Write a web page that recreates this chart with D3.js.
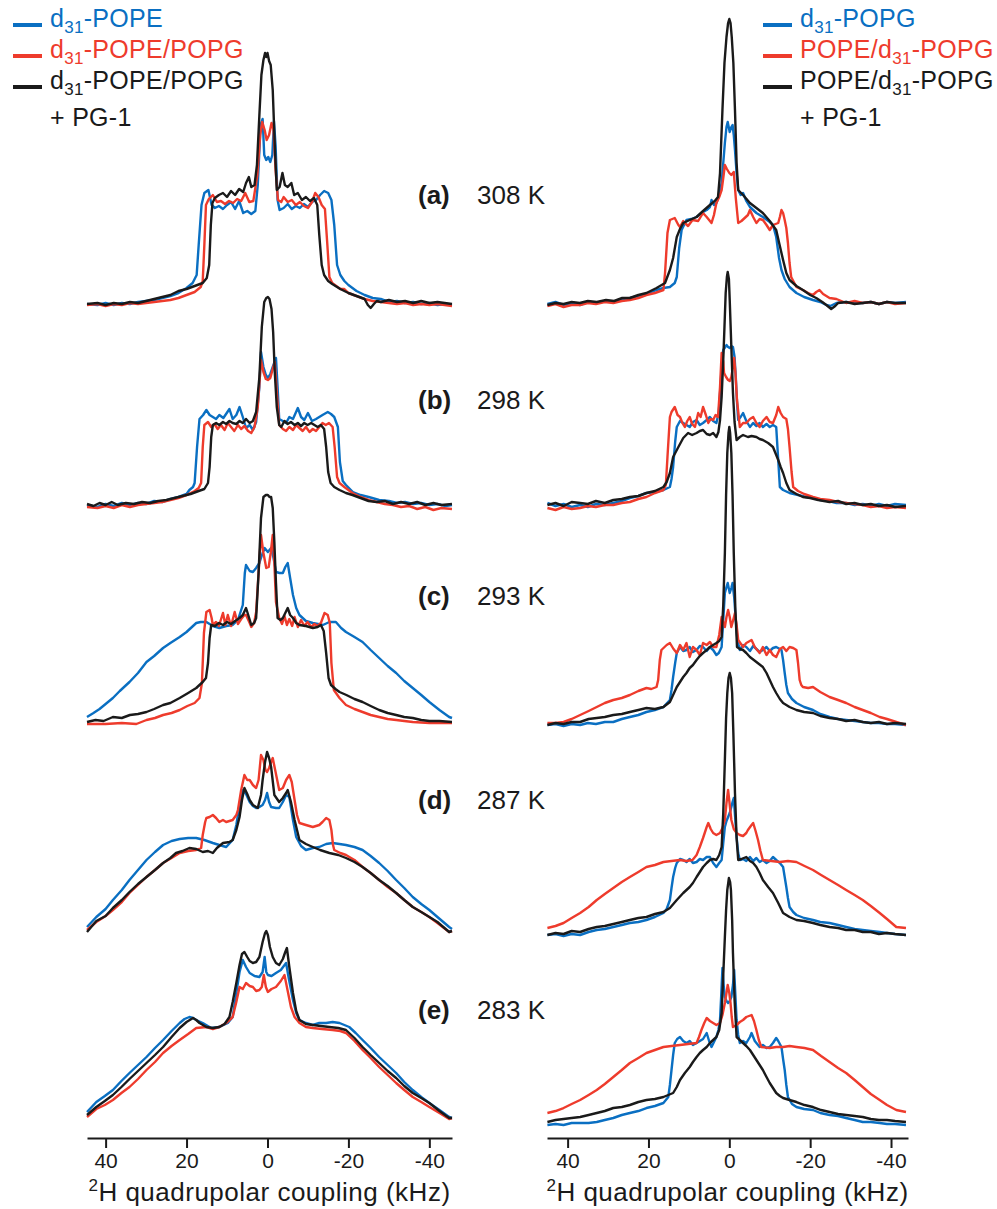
<!DOCTYPE html>
<html>
<head>
<meta charset="utf-8">
<script src="https://cdn.jsdelivr.net/npm/d3@7"></script>
<style>
  body { margin: 0; background: #fff; }
  svg { display: block; font-family: "Liberation Sans", Arial, sans-serif; }
</style>
</head>
<body>
<div id="vis"></div>
<script>
const FRAME_WIDTH = 997;
const FRAME_HEIGHT = 1209;

const TAGS = ["(a)", "(b)", "(c)", "(d)", "(e)"];
const TEMPS = ["308 K", "298 K", "293 K", "287 K", "283 K"];
const X_TICKS = [40, 20, 0, -20, -40];
const X_MINOR = [30, 10, -10, -30];

const COLORS = ["#0a6fc2", "#ee3b2c", "#1a1a1a"];

// legend labels, parts with a subscript marked
const LEFT_NAMES = [
  [["d"], ["31", "sub"], ["-POPE"]],
  [["d"], ["31", "sub"], ["-POPE/POPG"]],
  [["d"], ["31", "sub"], ["-POPE/POPG"]]
];
const RIGHT_NAMES = [
  [["d"], ["31", "sub"], ["-POPG"]],
  [["POPE/d"], ["31", "sub"], ["-POPG"]],
  [["POPE/d"], ["31", "sub"], ["-POPG"]]
];

// ---- left column spectra: [kHz, intensity] ----
// d31-POPE
const POPE_308 = [[44.6,1],[42,0],[40,2],[38,0],[36,2],[34,1],[32,3],[30,4],[28,5],[26,7],[24,9],[22,12],[20,17],[18.5,22],[17.5,30],[17,60],[16.3,100],[15.6,112],[14.6,115],[13.8,100],[13,97],[12,99],[11,96],[10,100],[9,103],[8,96],[7,104],[6,92],[5,94],[4,91],[3,94],[2.4,120],[1.7,180],[1.2,186],[0.8,150],[0.3,145],[-0.2,148],[-0.7,143],[-1.2,150],[-1.6,184],[-2.0,160],[-2.5,105],[-3,95],[-4,97],[-5,101],[-6,96],[-7,99],[-8,97],[-9,101],[-10,98],[-11,103],[-12,105],[-13,110],[-14,114],[-15,112],[-15.8,105],[-16.5,80],[-17.2,40],[-18,30],[-19,24],[-20,20],[-22,14],[-24,10],[-26,7],[-28,6],[-30,3],[-32,4],[-34,2],[-36,3],[-38,1],[-40,2],[-42,0],[-44,1],[-45.6,0]];
const POPE_298 = [[44.6,2],[42,0],[40,3],[38,1],[36,4],[34,2],[32,4],[30,3],[28,6],[26,5],[24,8],[22,10],[20,13],[19.3,17],[18.4,20],[18.0,24],[17.4,60],[16.8,88],[15.9,92],[15.1,97],[14.3,92],[12.7,88],[11.9,92],[10.9,89],[9.4,98],[8.6,88],[7.7,92],[6.9,100],[6.1,90],[5.3,79],[4.4,82],[3.6,77],[2.8,85],[2.0,120],[1.6,155],[1.0,140],[0.4,132],[-0.1,129],[-0.7,133],[-1.3,140],[-2.1,149],[-2.5,120],[-2.9,88],[-3.8,86],[-4.6,84],[-5.4,90],[-6.3,88],[-7.5,99],[-8.3,90],[-9.1,87],[-10.0,94],[-11.0,86],[-12.0,88],[-12.8,90],[-13.6,92],[-14.9,95],[-15.7,93],[-16.5,90],[-17.4,80],[-17.9,45],[-18.6,26],[-19.4,22],[-21.1,15],[-23,12],[-25,10],[-27.6,7],[-30,6],[-32,4],[-34,5],[-36,3],[-38,4],[-40,2],[-42,3],[-44,1],[-45.6,2]];
const POPE_293 = [[44.6,6],[43,10],[41.5,14],[40,19],[38.2,25],[36.5,32],[34.1,41],[32,50],[29.9,61],[28,67],[25.8,75],[24,80],[21.7,86],[20,91],[17.6,100],[16.5,101],[15.1,101],[13.5,97],[11.9,95],[10.2,97],[8.6,98],[7.3,103],[6.1,118],[5.6,150],[5.3,158],[4.4,152],[3.6,151],[2.8,155],[2.0,160],[1.2,170],[0.7,175],[-0.1,171],[-0.9,175],[-1.5,165],[-2.1,151],[-3.0,150],[-3.8,150],[-4.4,156],[-5.0,160],[-5.6,145],[-6.3,128],[-7.1,115],[-7.9,108],[-9.5,102],[-11.2,100],[-13.7,98],[-15.3,101],[-16.9,101],[-18.2,95],[-19.4,91],[-21.5,86],[-23.5,81],[-25.5,73],[-27.6,65],[-29.7,57],[-31.8,50],[-33.8,42],[-35.9,35],[-38,28],[-40.0,21],[-42.5,13],[-44.9,6],[-45.6,5]];
const POPE_287 = [[44.6,3],[42.3,13],[40,21],[38.2,30],[36,40],[34.1,50],[32,60],[29.9,70],[27.8,78],[25.8,85],[23.7,89],[21.7,91],[19.6,92],[17.6,92],[15.6,90],[13.5,87],[11.9,85],[10.2,83],[8.6,90],[7.7,105],[6.9,125],[6.1,140],[5.3,136],[4.4,128],[3.6,124],[2.8,122],[2.0,123],[1.2,125],[0.6,130],[0.1,137],[-0.4,128],[-0.9,123],[-2.1,122],[-2.9,122],[-3.8,128],[-4.6,135],[-5.4,133],[-6.3,110],[-7.1,93],[-8.3,84],[-9.5,80],[-11.2,82],[-12.8,83],[-14.5,86],[-16.1,87],[-17.8,86],[-19.4,85],[-21.5,83],[-23.5,80],[-25.5,74],[-27.6,67],[-29.7,59],[-31.8,50],[-33.8,42],[-35.9,33],[-38,26],[-40,20],[-42,13],[-44.9,3],[-45.6,1]];
const POPE_283 = [[44.6,5],[42.3,15],[40.2,21],[38.2,27],[36.1,36],[34.1,44],[32,52],[29.9,60],[27.8,69],[25.8,77],[23.7,86],[21.7,94],[20.5,98],[19.3,100],[18.4,99],[17.6,97],[16.0,94],[13.9,89],[11.9,90],[9.8,94],[8.6,100],[7.7,124],[6.9,145],[6.1,157],[5.3,150],[4.4,144],[3.2,141],[2.0,140],[1.2,145],[0.7,160],[0.3,145],[-0.1,142],[-1.0,141],[-2.1,144],[-3.3,147],[-4.6,154],[-5.2,140],[-6.3,117],[-7.1,104],[-7.9,97],[-9.5,94],[-11.2,92],[-12.8,94],[-14.5,94],[-16.1,95],[-17.8,94],[-20.2,90],[-21.8,84],[-23.5,77],[-25.5,69],[-27.6,60],[-29.7,52],[-31.8,44],[-33.8,35],[-35.9,27],[-38,20],[-40.0,14],[-42.5,7],[-44.9,0],[-45.6,-1]];

// d31-POPE/POPG
const POPE_POPG_308 = [[44.6,0],[42,1],[40,-1],[38,1],[36,0],[34,2],[32,1],[30,2],[28,3],[26,4],[24,5],[22,7],[20,10],[18,13],[16.5,18],[16,24],[15.6,60],[15.2,100],[14.5,106],[13.5,110],[12.5,103],[11.5,104],[10.5,101],[9.5,104],[8.5,102],[7.5,106],[6.5,104],[5.5,112],[4.5,103],[3.5,104],[2.5,130],[1.8,170],[1.3,183],[0.7,175],[0.2,165],[-0.4,170],[-1.0,182],[-1.5,175],[-2.0,135],[-2.6,105],[-3.4,103],[-4,108],[-5,103],[-6,105],[-7,100],[-8,103],[-9,99],[-10,97],[-11,103],[-11.8,112],[-12.6,108],[-13.4,100],[-14.2,96],[-14.8,60],[-15.3,28],[-16,22],[-17,19],[-18,16],[-19,16],[-20,12],[-22,9],[-24,6],[-26,4],[-28,3],[-30,2],[-32,1],[-34,2],[-36,0],[-38,1],[-40,0],[-42,1],[-45.6,-1]];
const POPE_POPG_298 = [[44.6,0],[42,-1],[40,1],[38,-1],[36,2],[34,0],[32,2],[30,3],[28,4],[26,5],[24,7],[22,9],[20,12],[18,16],[17,19],[16.4,24],[16.0,60],[15.6,82],[14.7,85],[13.9,80],[13.1,83],[12.3,78],[11.5,82],[10.6,77],[9.8,84],[9.0,80],[8.2,76],[7.3,82],[6.5,78],[5.7,81],[4.8,76],[4.0,74],[3.2,80],[2.4,100],[1.6,147],[1.0,135],[0.4,128],[-0.1,127],[-0.7,129],[-1.3,138],[-1.8,145],[-2.3,115],[-2.9,82],[-3.8,78],[-4.6,76],[-5.4,80],[-6.3,77],[-7.1,82],[-7.9,79],[-8.7,76],[-9.5,80],[-10.4,75],[-11.2,78],[-12.0,76],[-12.8,80],[-13.6,84],[-14.4,82],[-15.2,84],[-16.1,80],[-16.6,60],[-17.2,30],[-17.8,24],[-19,20],[-21,14],[-23,10],[-25,7],[-27,5],[-29,3],[-31,2],[-33,0],[-35,1],[-37,-2],[-39,0],[-41,-3],[-43,-1],[-45.6,-2]];
const POPE_POPG_293 = [[44.6,-1],[40,-1],[36,0],[32.4,-1],[29.9,3],[27.8,5],[25.8,8],[23.7,10],[21.7,13],[19.8,17],[18.0,20],[16.8,25],[16.2,40],[15.7,90],[15.1,111],[14.3,113],[13.8,105],[13.5,98],[12.7,101],[12.0,97],[11.0,110],[10.4,98],[9.8,108],[9.0,97],[8.1,111],[7.3,99],[6.5,104],[5.7,108],[5.3,108],[4.4,100],[4.0,96],[3.3,100],[2.8,111],[2.2,150],[1.6,188],[1.0,170],[0.3,155],[-0.3,156],[-0.8,170],[-1.3,188],[-1.7,160],[-2.1,121],[-2.9,105],[-3.6,99],[-4.2,107],[-4.8,98],[-5.4,104],[-6.1,97],[-6.7,106],[-7.5,96],[-8.3,103],[-9.1,97],[-9.9,101],[-10.8,96],[-11.6,99],[-12.4,97],[-13.2,100],[-14.1,110],[-14.9,108],[-15.4,100],[-15.8,60],[-16.4,33],[-17.8,25],[-19.4,18],[-21.5,14],[-23.5,11],[-25.5,8],[-27.6,6],[-29.7,4],[-31.8,3],[-33.8,2],[-35.9,1],[-40,0],[-45.6,0]];
const POPE_POPG_287 = [[44.6,0],[42.3,8],[40,14],[38.2,20],[36,28],[34.1,37],[32,45],[29.9,53],[27.8,60],[25.8,67],[23.7,72],[21.7,77],[19.6,79],[17.6,80],[16.4,82],[16.0,95],[15.4,108],[15.1,112],[14.3,113],[13.5,115],[12.7,112],[11.9,108],[11.0,110],[10.2,108],[9.4,109],[8.6,110],[7.7,115],[7.3,120],[6.5,140],[5.7,155],[5.0,150],[4.4,150],[3.6,145],[2.8,142],[2.2,150],[1.6,175],[1.0,170],[0.5,160],[0.1,158],[-0.4,162],[-0.9,168],[-1.3,172],[-1.9,160],[-2.9,140],[-3.8,142],[-4.6,150],[-5.4,155],[-6.0,148],[-6.7,130],[-7.3,115],[-7.9,107],[-9.5,105],[-11.2,103],[-12.8,105],[-13.6,108],[-14.5,112],[-15.3,110],[-15.8,100],[-16.2,85],[-16.5,80],[-18,77],[-19.4,75],[-21.5,70],[-23.5,63],[-25.5,57],[-27.6,50],[-29.7,43],[-31.8,37],[-33.8,30],[-35.9,23],[-38,18],[-40,13],[-42,7],[-44.9,-2],[-45.6,-1]];
const POPE_POPG_283 = [[44.6,0],[42.3,8],[40.2,12],[38.2,17],[36.1,24],[34.1,30],[32,38],[29.9,47],[27.8,55],[25.8,64],[23.7,71],[21.7,77],[19.6,83],[17.6,89],[15.1,90],[13.5,88],[11.9,90],[10.2,94],[8.6,100],[7.7,115],[6.9,130],[6.1,128],[5.3,134],[4.4,131],[3.6,130],[2.8,126],[2.0,127],[1.4,130],[0.9,142],[0.4,130],[-0.1,125],[-1.0,128],[-2.1,130],[-3.3,136],[-4.2,142],[-5.0,126],[-5.8,110],[-6.7,100],[-7.9,94],[-9.5,90],[-11.2,89],[-13.5,88],[-16.1,87],[-18,86],[-19.4,84],[-21.5,76],[-23.5,67],[-25.5,59],[-27.6,50],[-29.7,42],[-31.8,34],[-33.8,27],[-35.9,20],[-38,15],[-40,10],[-42.5,4],[-44.9,-2],[-45.6,-1]];

// d31-POPE/POPG + PG-1
const POPE_POPG_PG1_308 = [[44.6,1],[42,2],[40,0],[38,2],[36,1],[34,3],[32,2],[30,4],[28,6],[26,8],[24,10],[22,14],[20,16],[18,19],[16,22],[15,27],[14.4,40],[14,80],[13.6,102],[13,107],[12,110],[11,112],[10,108],[9,114],[8,110],[7,116],[6,113],[5.3,122],[4.6,128],[4,118],[3.2,120],[2.6,140],[2.0,190],[1.5,230],[1.0,245],[0.6,252],[0.3,248],[0,252],[-0.4,244],[-0.8,240],[-1.3,215],[-1.8,160],[-2.3,115],[-3,118],[-3.7,132],[-4.3,120],[-5,118],[-5.9,122],[-6.6,110],[-7.5,112],[-8.5,105],[-9.5,108],[-10.5,104],[-11.5,107],[-12.3,100],[-12.8,70],[-13.4,40],[-14,30],[-15,24],[-16,21],[-18,16],[-20,12],[-22,9],[-24,6],[-24.8,0],[-25.5,-3],[-26.3,1],[-27,4],[-28,3],[-30,5],[-32,3],[-34,4],[-36,2],[-38,4],[-40,2],[-42,3],[-45.6,1]];
const POPE_POPG_PG1_298 = [[44.6,3],[43,1],[41.5,4],[40,2],[38.5,5],[37,2],[35,4],[33,3],[31,5],[29,4],[27,6],[25,7],[23,9],[21,11],[19,13],[17,16],[15.6,18],[14.7,24],[14.3,40],[13.9,70],[13.5,82],[12.7,84],[11.9,82],[11.0,85],[10.2,83],[9.4,86],[8.6,84],[7.7,83],[6.9,86],[6.1,84],[5.3,88],[4.4,84],[3.6,86],[2.8,95],[2.0,130],[1.4,180],[0.8,205],[0.3,209],[-0.1,210],[-0.5,208],[-1.0,198],[-1.4,175],[-1.8,135],[-2.3,100],[-2.9,82],[-3.4,80],[-4.2,86],[-5.0,83],[-5.8,85],[-6.7,82],[-7.5,84],[-8.3,81],[-9.1,84],[-9.9,82],[-10.8,84],[-11.6,82],[-12.4,80],[-13.2,82],[-14.0,78],[-14.5,60],[-15.0,35],[-15.6,24],[-16.5,20],[-17.8,17],[-19.4,14],[-21,12],[-23,9],[-25,6],[-27,5],[-29,6],[-31,3],[-33,5],[-35,3],[-37,5],[-39,2],[-41,4],[-43,2],[-45.6,3]];
const POPE_POPG_PG1_293 = [[44.6,1],[42.5,3],[40.5,2],[38.2,6],[36,5],[34,8],[32,9],[29.9,11],[28,14],[25.8,18],[24,20],[21.7,25],[19.6,30],[17.6,35],[16.0,41],[15.2,45],[14.7,60],[14.3,85],[13.9,98],[13.0,97],[12,100],[11,98],[10,101],[9,99],[8,102],[6.9,105],[6.1,108],[5.3,115],[4.6,106],[4.0,98],[3.3,100],[2.8,105],[2.2,150],[1.6,205],[1.0,226],[0.4,228],[-0.1,228],[-0.5,226],[-0.9,226],[-1.3,215],[-1.7,181],[-2.1,140],[-2.5,105],[-3.2,103],[-3.8,105],[-4.4,110],[-5.0,115],[-5.6,108],[-6.3,105],[-7.1,100],[-7.9,98],[-9.5,97],[-11.2,95],[-12.4,96],[-13.2,98],[-13.9,92],[-14.5,70],[-15.1,45],[-15.7,38],[-16.8,34],[-17.8,31],[-19.5,28],[-21.5,24],[-23.5,21],[-25.5,17],[-27.6,13],[-29.7,10],[-31.8,8],[-33.8,6],[-35.9,5],[-38,3],[-40,2],[-42.5,2],[-45.6,1]];
const POPE_POPG_PG1_287 = [[44.6,-2],[42.3,9],[40,14],[38.2,22],[36,30],[34.1,38],[32,46],[29.9,53],[27.8,60],[25.8,67],[24,72],[22.6,77],[21,79],[19.3,82],[17.6,81],[16.0,78],[14.7,79],[13.5,77],[12.5,82],[11.0,87],[9.4,88],[8.6,90],[7.7,100],[6.9,113],[6.3,130],[5.7,142],[5.0,136],[4.4,130],[3.6,125],[2.4,122],[1.6,135],[1.2,150],[0.6,168],[0.1,178],[-0.4,172],[-0.9,163],[-1.7,135],[-2.9,128],[-3.8,132],[-4.6,137],[-5.0,140],[-5.8,128],[-6.7,110],[-7.9,90],[-9.5,86],[-11.2,83],[-13.0,80],[-15.3,77],[-17.5,75],[-19.4,72],[-21.5,68],[-23.5,63],[-25.5,57],[-27.6,50],[-29.7,44],[-31.8,37],[-33.8,30],[-35.9,23],[-38,18],[-40,13],[-42,8],[-44.9,-2],[-45.6,-1]];
const POPE_POPG_PG1_283 = [[44.6,2],[42.3,10],[40.2,16],[38.2,22],[36.1,30],[34.1,38],[32,46],[29.9,54],[27.8,62],[25.8,70],[23.7,80],[21.7,89],[20,95],[18.4,99],[17.6,97],[16.8,94],[15.1,90],[13.5,89],[11.9,90],[10.6,93],[9.4,100],[8.6,115],[7.7,134],[6.9,152],[6.3,163],[5.7,165],[5.0,160],[4.4,156],[3.6,154],[2.8,155],[2.0,160],[1.2,175],[0.6,184],[0.3,186],[-0.1,182],[-0.6,170],[-1.3,160],[-2.1,154],[-2.9,152],[-3.8,158],[-4.4,165],[-4.8,169],[-5.4,150],[-6.3,124],[-7.1,106],[-7.9,97],[-9.5,93],[-11.2,92],[-13.2,91],[-15.3,90],[-17.5,89],[-19.4,87],[-21.5,79],[-23.5,70],[-25.5,62],[-27.6,54],[-29.7,46],[-31.8,39],[-33.8,31],[-35.9,24],[-38,19],[-40,14],[-42.5,6],[-44.9,-1],[-45.6,-1]];

// ---- right column spectra ----
// d31-POPG
const POPG_308 = [[45,-1],[43,1],[41,-2],[39,0],[37,-2],[35,1],[32.8,0],[30.5,2],[28.5,1],[26.5,4],[24.6,5],[22.5,7],[20.5,9],[18.0,13],[16.3,15],[14.7,16],[13.5,20],[13.0,26],[12.4,55],[11.8,73],[10.6,83],[9.4,84],[8.1,86],[6.9,90],[5.6,93],[4.8,96],[4.4,103],[3.8,98],[3.2,100],[2.5,108],[1.9,120],[1.5,140],[1.1,160],[0.7,176],[0.4,181],[0.1,175],[-0.1,171],[-0.5,176],[-0.8,178],[-1.1,168],[-1.4,153],[-1.8,130],[-2.2,113],[-2.8,108],[-3.4,110],[-4.2,102],[-5.1,96],[-6.7,90],[-8.3,86],[-10.0,81],[-10.8,78],[-11.6,66],[-12.3,45],[-12.9,33],[-13.7,24],[-14.9,16],[-16.6,10],[-18.5,6],[-20.7,3],[-22.5,1],[-24.0,-2],[-25.0,-3],[-26.5,0],[-28.9,1],[-31,0],[-33,0],[-35,1],[-37,-1],[-39,1],[-41,0],[-43.7,1]];
const POPG_298 = [[45,4],[43,1],[41,3],[39,0],[36.9,2],[35,0],[33,3],[30.8,2],[28.7,4],[26.6,6],[24.6,9],[22.5,11],[20.5,14],[18.4,15],[16.3,17],[14.7,20],[14.3,28],[13.9,40],[13.4,65],[13.0,80],[12.2,86],[11.4,84],[10.6,82],[9.8,80],[9.0,85],[8.1,87],[7.3,82],[6.5,84],[5.6,87],[4.8,90],[4.0,86],[3.2,84],[2.6,95],[2.2,120],[1.8,145],[1.5,157],[1.0,160],[0.7,162],[0.3,160],[-0.1,159],[-0.5,161],[-0.9,160],[-1.3,150],[-1.6,130],[-1.9,105],[-2.2,87],[-2.8,90],[-3.4,94],[-4.2,86],[-5.1,80],[-5.9,84],[-6.7,81],[-7.5,84],[-8.3,80],[-9.2,83],[-10.0,80],[-10.8,82],[-11.6,80],[-11.9,60],[-12.1,47],[-12.5,20],[-13.3,17],[-14.9,14],[-17,12],[-19,10],[-20.7,9],[-22.5,7],[-24.5,6],[-26.5,4],[-28.9,4],[-31,2],[-33,3],[-35,1],[-37,3],[-39,1],[-41,3],[-43.7,2]];
const POPG_293 = [[45,0],[43,1],[41,-1],[39,1],[36.9,0],[35,2],[33,1],[30.8,3],[28.7,3],[26.6,6],[24.6,8],[22.5,10],[20.5,13],[18.4,15],[16.3,18],[14.7,25],[14.3,35],[13.9,48],[13.4,62],[13.0,72],[12.2,78],[11.4,74],[10.6,75],[9.8,78],[9.0,73],[8.1,75],[7.3,79],[6.5,78],[5.6,74],[4.8,78],[4.0,75],[3.2,70],[2.6,72],[1.9,78],[1.5,105],[1.1,132],[0.7,138],[0.4,142],[0.1,136],[-0.1,132],[-0.5,137],[-0.8,142],[-1.2,128],[-1.6,105],[-2.0,85],[-2.6,75],[-3.4,80],[-4.2,78],[-5.1,74],[-5.9,79],[-6.7,76],[-7.5,73],[-8.3,75],[-9.2,78],[-10.0,74],[-10.8,77],[-11.6,78],[-12.5,76],[-12.9,75],[-13.3,65],[-13.7,52],[-14.1,40],[-14.5,32],[-15.5,26],[-16.6,22],[-18.5,18],[-20.7,15],[-22.5,11],[-24.8,8],[-26.9,6],[-28.9,5],[-31,4],[-33,3],[-35,2],[-37,2],[-39,1],[-41,1],[-43.7,0]];
const POPG_287 = [[45,-2],[43,-1],[41,-3],[39,-1],[36.9,-2],[34.8,1],[32.8,3],[30.8,4],[28.7,6],[26.6,8],[24.6,10],[22.5,11],[20.5,13],[18.4,16],[16.3,20],[15.5,24],[14.7,33],[14.3,45],[13.9,56],[13.4,65],[13.0,70],[12.2,74],[11.4,73],[10.6,71],[9.8,74],[9.0,70],[8.1,71],[7.3,74],[6.5,73],[5.6,76],[4.8,76],[4.0,70],[3.2,66],[2.5,70],[1.9,73],[1.5,90],[1.1,106],[0.7,112],[0.3,116],[-0.1,120],[-0.5,126],[-0.8,131],[-1.1,135],[-1.4,118],[-1.8,96],[-2.2,80],[-2.6,73],[-3.4,74],[-4.2,72],[-5.1,76],[-5.9,72],[-6.7,75],[-7.5,71],[-8.3,73],[-9.2,70],[-10.0,72],[-10.8,76],[-11.6,73],[-12.5,70],[-13.3,66],[-13.7,56],[-14.1,46],[-14.5,35],[-14.9,26],[-15.8,21],[-16.6,18],[-18.5,15],[-20.7,13],[-22.5,11],[-24.8,10],[-26.9,8],[-28.9,6],[-31,4],[-33.0,3],[-35,2],[-37.2,1],[-39,0],[-41,-1],[-43.7,-2]];
const POPG_283 = [[45,0],[43,1],[41,0],[39,2],[36.9,2],[34.8,2],[32.8,3],[30.8,5],[28.7,7],[26.6,10],[24.6,12],[22.5,14],[20.5,17],[18.4,19],[16.3,22],[15.1,28],[14.7,40],[14.3,55],[13.9,70],[13.5,82],[12.9,86],[12.2,88],[11.4,84],[10.6,82],[9.8,84],[9.0,80],[8.1,82],[7.3,84],[6.5,86],[5.6,92],[5.0,84],[4.4,78],[3.8,83],[3.2,88],[2.7,95],[2.3,105],[2.0,130],[1.7,157],[1.4,140],[1.1,128],[0.7,124],[0.3,122],[-0.1,124],[-0.5,128],[-0.9,140],[-1.2,155],[-1.5,130],[-1.8,105],[-2.2,90],[-2.6,82],[-3.4,84],[-4.2,82],[-5.1,88],[-5.5,92],[-6.3,84],[-7.5,78],[-8.3,80],[-9.2,77],[-10.0,78],[-10.8,82],[-11.6,87],[-12.1,84],[-12.9,78],[-13.3,66],[-13.7,55],[-14.1,40],[-14.5,28],[-15.5,21],[-16.6,18],[-18.5,16],[-20.7,15],[-22.5,12],[-24.8,10],[-26.9,9],[-28.9,7],[-31,5],[-33.0,3],[-35,3],[-37.2,2],[-39,1],[-41,1],[-43.7,0]];

// POPE/d31-POPG
const POPE_DPOPG_308 = [[45,-3],[43,-1],[41,-4],[39,-2],[36.9,-2],[35,0],[33,-1],[30.8,1],[28.7,0],[26.6,2],[24.6,3],[22.5,5],[20.5,8],[18.4,10],[16.3,13],[15.9,30],[15.3,70],[14.7,83],[13.5,85],[12.6,78],[12.2,76],[11.4,82],[11.0,80],[10.2,77],[9.1,83],[7.7,82],[6.5,90],[5.6,86],[4.4,80],[3.8,88],[3.2,100],[2.5,106],[1.9,113],[1.5,125],[1.1,138],[0.6,134],[0.0,130],[-0.5,128],[-1.1,131],[-1.6,105],[-2.2,80],[-3.0,82],[-3.8,85],[-4.6,88],[-5.1,93],[-5.9,86],[-6.7,80],[-7.5,84],[-8.3,83],[-9.2,78],[-10.0,73],[-10.8,78],[-12.1,80],[-12.5,86],[-12.9,93],[-13.3,90],[-13.7,83],[-14.1,75],[-14.5,60],[-14.9,40],[-15.3,26],[-16.6,16],[-18.2,13],[-19.5,10],[-20.7,8],[-21.5,11],[-22.3,13],[-23.2,9],[-24.8,5],[-26.5,4],[-28.9,0],[-31,2],[-33,0],[-35,1],[-37,-1],[-39,1],[-41,-1],[-43.7,0]];
const POPE_DPOPG_298 = [[45,-1],[43,-3],[41,0],[39,-2],[36.9,-1],[35,1],[33,0],[30.8,2],[28.7,2],[26.6,4],[24.6,5],[22.5,8],[20.5,10],[18.4,14],[16.3,17],[15.7,22],[15.3,50],[14.7,90],[14.3,95],[13.5,100],[12.8,92],[12.2,90],[11.6,84],[11.0,80],[10.4,86],[9.8,90],[9.2,83],[8.5,80],[7.7,94],[7.1,90],[6.5,100],[5.8,92],[5.2,84],[4.6,88],[4.0,87],[3.4,92],[2.8,90],[2.3,120],[1.9,154],[1.5,145],[1.3,134],[0.8,130],[0.3,127],[-0.1,126],[-0.5,130],[-0.9,140],[-1.2,149],[-1.5,135],[-1.9,107],[-2.6,80],[-3.4,84],[-4.2,84],[-5.1,88],[-5.9,90],[-6.7,84],[-7.5,80],[-8.3,86],[-9.2,90],[-10.0,85],[-10.8,84],[-11.6,92],[-12.1,100],[-12.7,94],[-13.3,90],[-14.1,88],[-14.5,78],[-14.9,60],[-15.4,35],[-15.8,20],[-17,16],[-18.5,13],[-20.7,10],[-22.5,8],[-24.8,7],[-26.9,5],[-28.9,4],[-31,3],[-33,2],[-35,0],[-37,1],[-39,-1],[-41,0],[-43.7,-1]];
const POPE_DPOPG_293 = [[45,2],[43,2],[41.0,3],[39,6],[36.9,10],[34.8,14],[32.8,18],[30.8,22],[28.7,25],[26.6,27],[24.6,30],[22.5,34],[20.5,37],[19.3,36],[18.0,38],[17.6,45],[17.2,65],[16.8,75],[15.5,80],[14.7,82],[13.8,76],[13.0,72],[12.2,80],[11.4,75],[10.6,82],[9.8,68],[9.0,78],[8.1,75],[7.3,70],[6.5,82],[5.6,80],[4.8,83],[4.0,78],[3.2,78],[2.5,90],[1.9,108],[1.5,103],[1.1,98],[0.7,108],[0.3,115],[-0.1,108],[-0.5,98],[-0.9,104],[-1.4,112],[-1.8,100],[-2.2,85],[-3.4,78],[-4.2,82],[-5.5,85],[-6.3,78],[-7.5,72],[-8.3,78],[-9.2,70],[-10.0,75],[-10.8,70],[-11.6,68],[-12.5,76],[-13.3,78],[-14.1,74],[-14.9,78],[-15.8,77],[-16.6,75],[-17.0,62],[-17.4,45],[-17.8,40],[-18.2,38],[-19.5,37],[-20.7,38],[-22.5,33],[-24.8,28],[-26.9,25],[-28.9,22],[-31,18],[-33.0,15],[-35,12],[-37.2,8],[-39,6],[-41.3,3],[-43.7,0]];
const POPE_DPOPG_287 = [[45,5],[43,7],[41.0,10],[39,15],[36.9,20],[34.8,26],[32.8,33],[30.8,39],[28.7,45],[26.6,51],[24.6,56],[22.5,61],[20.5,66],[18.4,68],[16.3,71],[14.3,72],[12.2,73],[10.6,72],[9.1,73],[8.1,78],[7.3,86],[6.5,95],[5.6,106],[5.2,110],[4.6,104],[4.0,100],[3.2,98],[2.3,100],[1.7,105],[1.1,113],[0.7,130],[0.3,143],[0.0,132],[-0.5,113],[-1.1,104],[-1.8,100],[-2.6,98],[-3.4,97],[-4.2,100],[-4.6,103],[-5.5,108],[-5.9,110],[-6.5,102],[-7.1,93],[-7.7,82],[-8.3,73],[-10.4,72],[-12.5,71],[-14.5,72],[-16.6,71],[-18.6,67],[-20.7,63],[-22.7,58],[-24.8,53],[-26.9,48],[-28.9,43],[-31,38],[-33.0,33],[-35,27],[-37.2,20],[-39,14],[-41.3,6],[-43.7,5]];
const POPE_DPOPG_283 = [[45,12],[43,14],[41.0,17],[39,21],[36.9,25],[34.8,30],[32.8,35],[30.8,41],[28.7,48],[26.6,55],[24.6,62],[22.5,67],[20.5,72],[18.4,75],[16.3,78],[14.3,79],[12.2,80],[10.2,81],[8.1,82],[7.5,88],[6.9,95],[6.2,102],[5.6,107],[4.8,104],[4.0,102],[3.2,100],[2.3,102],[1.7,110],[1.1,122],[0.7,132],[0.4,140],[0.0,132],[-0.3,122],[-0.6,108],[-0.9,98],[-1.8,100],[-2.6,103],[-3.4,105],[-4.2,108],[-5.5,110],[-6.1,104],[-6.7,95],[-7.3,85],[-7.9,78],[-10.0,77],[-11.6,78],[-13.3,78],[-14.9,79],[-16.6,78],[-18.6,77],[-20.7,75],[-22.7,69],[-24.8,63],[-26.9,57],[-28.9,52],[-31,45],[-33.0,38],[-35,31],[-37.2,25],[-39,20],[-41.3,15],[-43.7,13]];

// POPE/d31-POPG + PG-1
const POPE_DPOPG_PG1_308 = [[45,-2],[43,0],[41,-1],[39,1],[37,0],[35,2],[32.8,1],[30.5,3],[28.5,2],[26.5,5],[24.6,5],[22.5,8],[20.5,10],[18.0,15],[15.9,20],[14.7,33],[13.9,45],[13.0,66],[12.2,74],[11.4,80],[9.8,83],[8.1,86],[6.5,92],[4.8,98],[3.6,102],[2.8,106],[2.3,130],[1.7,193],[1.2,240],[0.7,266],[0.3,280],[0.0,284],[-0.3,280],[-0.6,266],[-1.0,240],[-1.4,193],[-1.8,140],[-2.2,113],[-3.4,108],[-5.1,100],[-6.7,95],[-8.3,90],[-10.0,82],[-11.6,73],[-12.5,57],[-13.3,43],[-14.1,30],[-14.9,23],[-16.6,17],[-18.2,13],[-20,8],[-21.5,5],[-23,1],[-24.0,-2],[-25.2,-6],[-26.2,-3],[-26.9,0],[-28.9,1],[-31,-1],[-33,0],[-35,1],[-37,-1],[-39,1],[-41,0],[-43.7,0]];
const POPE_DPOPG_PG1_298 = [[45,2],[43,4],[41,1],[39,5],[36.9,4],[35,3],[33,6],[30.8,4],[28.7,7],[26.6,8],[24.6,10],[22.5,11],[20.5,14],[18.4,16],[16.3,20],[15.5,25],[14.7,34],[13.9,50],[12.6,60],[11.4,69],[10.2,74],[9.2,72],[8.1,74],[7.3,76],[6.5,77],[5.6,73],[4.8,72],[4.0,74],[3.2,70],[2.7,75],[2.3,87],[1.9,110],[1.5,147],[1.2,180],[0.9,214],[0.6,230],[0.4,235],[0.1,228],[-0.1,207],[-0.5,160],[-0.9,114],[-1.3,85],[-1.8,67],[-2.6,70],[-3.4,72],[-4.6,70],[-5.5,71],[-6.7,70],[-7.5,68],[-8.3,67],[-9.6,64],[-10.8,60],[-11.6,52],[-12.1,47],[-12.7,40],[-13.3,34],[-14.1,24],[-14.9,17],[-16.6,13],[-18.2,10],[-20,9],[-22,7],[-24.8,5],[-26.9,6],[-28.9,3],[-31,4],[-33,2],[-35,3],[-37,1],[-39,2],[-41,0],[-43.7,1]];
const POPE_DPOPG_PG1_293 = [[45,0],[43,2],[41,1],[39,3],[36.9,3],[34.8,6],[32.8,7],[30.8,8],[28.7,10],[26.6,11],[24.6,13],[22.5,15],[20.5,17],[18.4,16],[16.3,18],[14.7,23],[13.9,30],[13.0,38],[12.2,43],[11.4,48],[10.6,52],[9.8,57],[9.0,60],[8.1,65],[7.3,69],[6.5,72],[5.6,75],[4.8,78],[4.0,80],[3.2,82],[2.5,84],[1.9,88],[1.5,120],[1.1,172],[0.8,230],[0.5,272],[0.2,292],[0.0,298],[-0.2,292],[-0.5,272],[-0.8,230],[-1.1,172],[-1.5,115],[-1.9,78],[-2.6,76],[-3.4,75],[-4.2,72],[-5.1,68],[-6.7,63],[-8.3,58],[-9.2,52],[-10.0,45],[-10.8,38],[-11.6,32],[-12.5,26],[-13.3,22],[-14.9,18],[-16.6,15],[-18.5,13],[-20.7,12],[-22.5,9],[-24.8,7],[-26.9,6],[-28.9,4],[-31,5],[-33.0,3],[-35,2],[-37,3],[-39,1],[-41,2],[-43.7,1]];
const POPE_DPOPG_PG1_287 = [[45,-2],[43,0],[41,-1],[39,2],[36.9,1],[34.8,4],[32.8,6],[30.8,7],[28.7,9],[26.6,11],[24.6,13],[22.5,15],[20.5,16],[18.4,19],[16.3,21],[14.7,25],[13.0,33],[11.4,40],[9.8,46],[9.0,50],[8.1,56],[7.3,61],[6.5,66],[5.6,70],[4.8,73],[4.0,74],[3.2,73],[2.5,78],[1.9,86],[1.5,120],[1.1,173],[0.8,215],[0.5,240],[0.2,255],[-0.1,260],[-0.4,255],[-0.7,240],[-1.0,200],[-1.4,140],[-1.8,95],[-2.2,73],[-3.0,74],[-4.2,76],[-5.1,72],[-5.9,70],[-6.7,66],[-7.5,60],[-8.3,53],[-9.6,46],[-10.8,40],[-12.1,30],[-13.3,20],[-14.9,16],[-16.6,13],[-18.5,12],[-20.7,10],[-22.5,8],[-24.8,6],[-26.9,5],[-28.9,3],[-31,3],[-33.0,1],[-35,1],[-37,-1],[-39,0],[-41,-1],[-43.7,-2]];
const POPE_DPOPG_PG1_283 = [[45,3],[43,5],[41,6],[39,7],[36.9,8],[34.8,10],[32.8,12],[30.8,14],[28.7,17],[26.6,18],[24.6,20],[22.5,23],[20.5,25],[18.4,26],[16.3,28],[15.1,30],[13.9,32],[13.0,38],[12.2,45],[11.0,52],[9.8,58],[9.0,63],[8.1,68],[7.3,72],[6.5,75],[5.6,78],[4.8,82],[4.0,85],[3.2,88],[2.5,95],[1.9,112],[1.5,150],[1.1,188],[0.8,215],[0.5,235],[0.1,247],[-0.2,243],[-0.4,235],[-0.7,205],[-0.9,172],[-1.3,125],[-1.8,88],[-2.6,85],[-3.4,82],[-4.2,79],[-5.1,75],[-5.9,70],[-6.7,65],[-7.5,60],[-8.3,55],[-9.2,48],[-10.0,42],[-10.8,37],[-11.6,32],[-12.5,29],[-13.3,27],[-14.9,25],[-16.6,23],[-18.6,20],[-20.7,18],[-22.7,15],[-24.8,13],[-26.9,11],[-28.9,10],[-31,9],[-33.0,8],[-35,6],[-37,5],[-39,5],[-41,4],[-43.7,3]];

const LEFT_SETS = [
  [POPE_308, POPE_POPG_308, POPE_POPG_PG1_308],
  [POPE_298, POPE_POPG_298, POPE_POPG_PG1_298],
  [POPE_293, POPE_POPG_293, POPE_POPG_PG1_293],
  [POPE_287, POPE_POPG_287, POPE_POPG_PG1_287],
  [POPE_283, POPE_POPG_283, POPE_POPG_PG1_283]
];
const RIGHT_SETS = [
  [POPG_308, POPE_DPOPG_308, POPE_DPOPG_PG1_308],
  [POPG_298, POPE_DPOPG_298, POPE_DPOPG_PG1_298],
  [POPG_293, POPE_DPOPG_293, POPE_DPOPG_PG1_293],
  [POPG_287, POPE_DPOPG_287, POPE_DPOPG_PG1_287],
  [POPG_283, POPE_DPOPG_283, POPE_DPOPG_PG1_283]
];

// layout
const LEFT_BASE = [305, 507, 723, 930, 1117];
const RIGHT_BASE = [303, 507, 725, 933, 1125];
const AXIS_Y = 1138;

const LEFT_X = d3.scaleLinear().domain([44.6, -45.6]).range([87, 452]);
const RIGHT_X = d3.scaleLinear().domain([45.1, -44.2]).range([547, 908]);

const FRAME = d3.select("#vis")
  .append("svg")
    .attr("width", FRAME_WIDTH)
    .attr("height", FRAME_HEIGHT);

function drawColumn(sets, bases, X) {
  sets.forEach((panel, i) => {
    const Y = d3.scaleLinear()
      .domain([0, 100])
      .range([bases[i], bases[i] - 100]);
    const line = d3.line()
      .x((d) => X(d[0]))
      .y((d) => Y(d[1]));

    FRAME.append("g")
      .selectAll("path")
      .data(panel)
      .enter()
      .append("path")
        .attr("d", line)
        .attr("fill", "none")
        .attr("stroke", (d, j) => COLORS[j])
        .attr("stroke-width", 2.4)
        .attr("stroke-linejoin", "round");
  });

  // axis with major + minor ticks
  const g = FRAME.append("g")
    .attr("transform", "translate(0," + AXIS_Y + ")");
  g.call(d3.axisBottom(X)
      .tickValues(X_MINOR)
      .tickSize(5)
      .tickSizeOuter(0)
      .tickFormat(""));
  g.call(d3.axisBottom(X)
      .tickValues(X_TICKS)
      .tickSize(10)
      .tickSizeOuter(0)
      .tickPadding(5)
      .tickFormat((d) => String(d)));
  g.selectAll("path, line")
    .attr("stroke", "#1a1a1a")
    .attr("stroke-width", 2);
  g.selectAll("text")
    .attr("font-size", 21)
    .attr("font-family", "Liberation Sans, Arial, sans-serif")
    .attr("fill", "#1a1a1a");

  const mid = (X.range()[0] + X.range()[1]) / 2;
  const title = FRAME.append("text")
    .attr("x", mid)
    .attr("y", 1201)
    .attr("text-anchor", "middle")
    .attr("font-size", 26)
    .attr("letter-spacing", 0.5)
    .attr("fill", "#1a1a1a");
  title.append("tspan").attr("font-size", 17).attr("dy", -10).text("2");
  title.append("tspan").attr("dy", 10).text("H quadrupolar coupling (kHz)");
}

drawColumn(LEFT_SETS, LEFT_BASE, LEFT_X);
drawColumn(RIGHT_SETS, RIGHT_BASE, RIGHT_X);

// temperature labels between the columns
const LABEL_Y = [204, 409, 605, 809, 1019];
TAGS.forEach((t, i) => {
  FRAME.append("text")
    .attr("x", 418)
    .attr("y", LABEL_Y[i])
    .attr("font-size", 26)
    .attr("font-weight", "bold")
    .attr("fill", "#1a1a1a")
    .text(t);
  FRAME.append("text")
    .attr("x", 545)
    .attr("y", LABEL_Y[i])
    .attr("text-anchor", "end")
    .attr("font-size", 26)
    .attr("fill", "#1a1a1a")
    .text(TEMPS[i]);
});

// legends
const LEGEND_ROWS = [25, 56, 87];
function drawLegend(names, x0) {
  names.forEach((parts, i) => {
    const y = LEGEND_ROWS[i];
    FRAME.append("line")
      .attr("x1", x0).attr("x2", x0 + 29)
      .attr("y1", y).attr("y2", y)
      .attr("stroke", COLORS[i])
      .attr("stroke-width", 4);
    const t = FRAME.append("text")
      .attr("x", x0 + 37)
      .attr("y", y + 8)
      .attr("font-size", 25)
      .attr("letter-spacing", 0.3)
      .attr("fill", COLORS[i]);
    parts.forEach((p) => {
      if (p[1] === "sub") {
        t.append("tspan").attr("font-size", 17).attr("dy", 6).text(p[0]);
      } else {
        t.append("tspan").attr("dy", t.selectAll("tspan").size() ? -6 : 0).text(p[0]);
      }
    });
  });
  FRAME.append("text")
    .attr("x", x0 + 37)
    .attr("y", 126)
    .attr("font-size", 25)
    .attr("letter-spacing", 0.3)
    .attr("fill", COLORS[2])
    .text("+ PG-1");
}
drawLegend(LEFT_NAMES, 13);
drawLegend(RIGHT_NAMES, 763);
</script>
</body>
</html>
